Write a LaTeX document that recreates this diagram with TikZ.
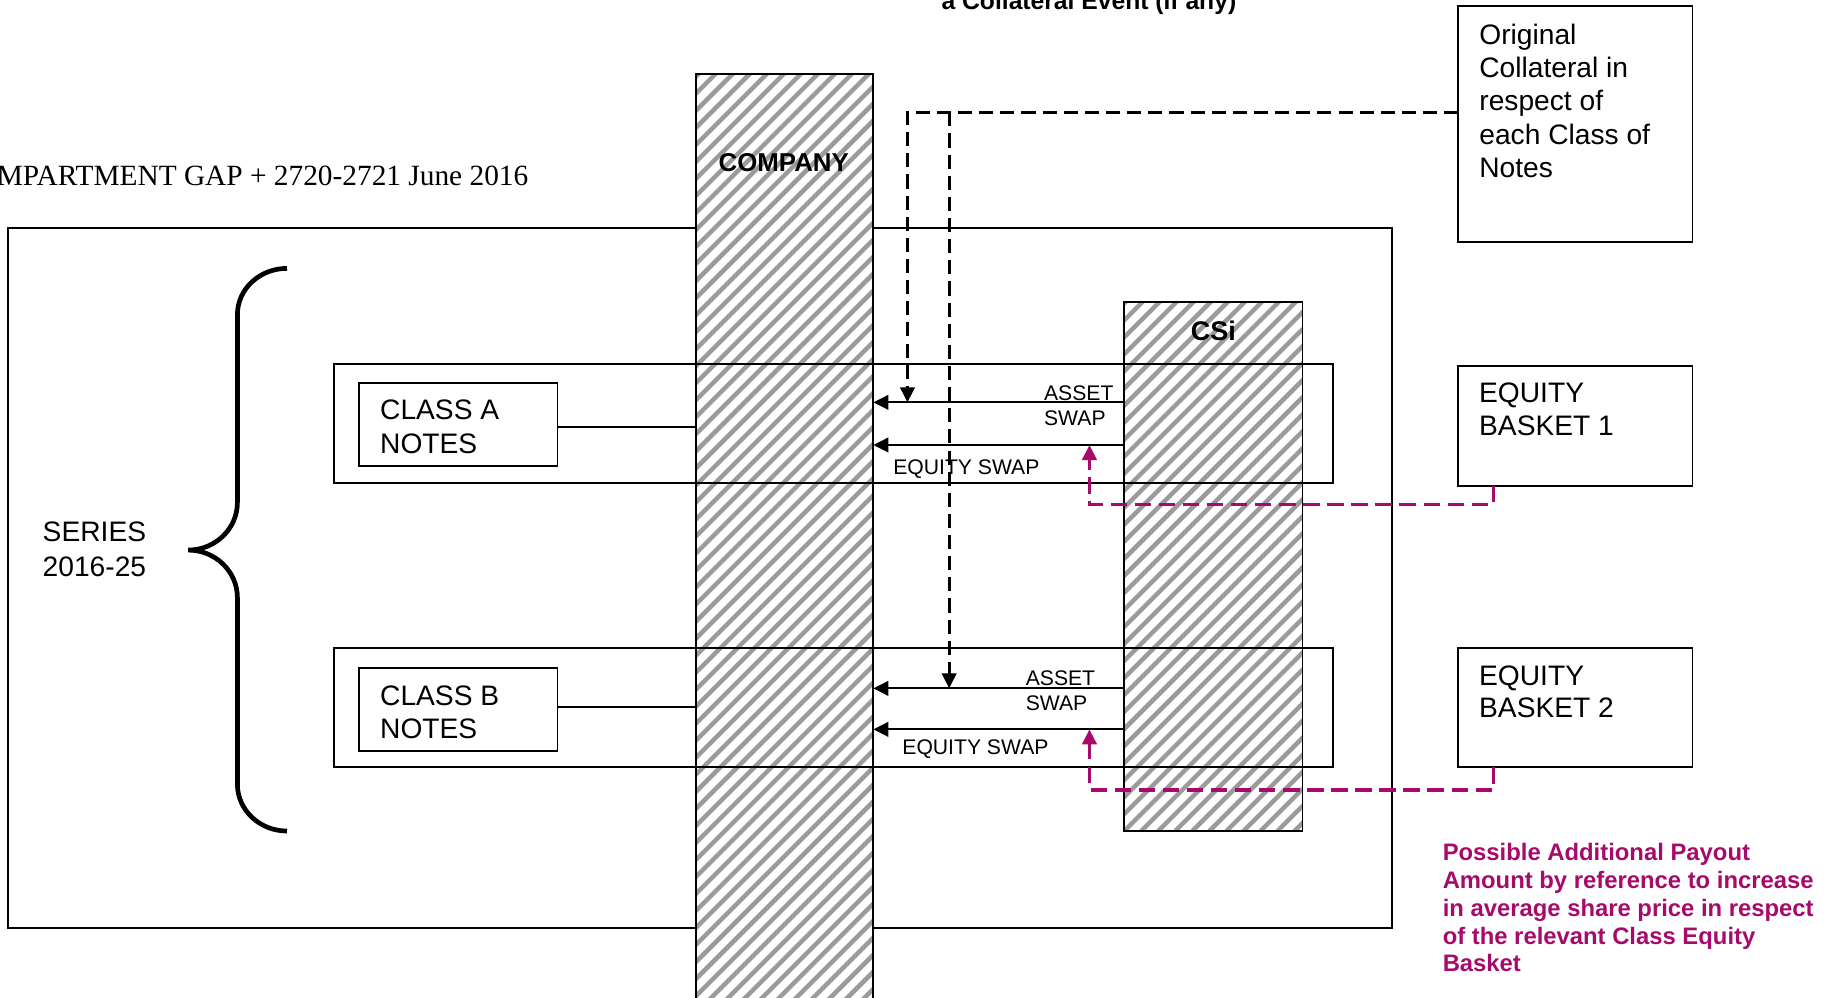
\documentclass[tikz,border=0pt]{standalone}
\usepackage{fontspec}
\setmainfont{Liberation Sans}
\newfontfamily\timesfont{Liberation Serif}
\usetikzlibrary{arrows.meta}
\definecolor{mag}{RGB}{166,10,106}
\definecolor{hatchgray}{RGB}{155,155,155}
\newcommand\fbig{\fontsize{24}{28.4}\selectfont}
\newcommand\fsmall{\fontsize{18}{21.2}\selectfont}
\newcommand\fmag{\bfseries\fontsize{20.3}{23.7}\selectfont}
\tikzset{
 boxnode/.style={draw=black, line width=1.6pt, rectangle, inner sep=0pt, outer sep=0pt, anchor=north west},
 hatched/.style={boxnode, fill=white, path picture={\foreach \k in {-62,...,12}{\draw[hatchgray, line width=3.8pt] ([xshift=\k*14.5pt]path picture bounding box.south west) -- ++(1000pt,1000pt);}}},
 txt/.style={inner sep=0pt, outer sep=0pt, anchor=north west, align=left},
 basetxt/.style={inner sep=0pt, outer sep=0pt, anchor=base west},
 swaparrow/.style={line width=1.8pt, -{Triangle[length=12.8pt,width=12.5pt]}},
 blackdash/.style={line width=2.6pt, dash pattern=on 12pt off 6pt},
 magdash/.style={color=mag, line width=2.8pt, dash pattern=on 14pt off 6.5pt},
 dashtip/.style={-{Triangle[length=12.8pt,width=12.2pt]}},
 solidline/.style={line width=1.5pt},
}
\begin{document}
\begin{tikzpicture}[x=1pt,y=-1pt]
\useasboundingbox (0,0) rectangle (1568,850);

% top and title texts
\node[basetxt, font=\bfseries\fontsize{21}{25}\selectfont] (collev) at (802,8) {a Collateral Event (if any)};
\node[inner sep=0pt, outer sep=0pt, anchor=base east, font=\timesfont\fontsize{25}{29}\selectfont] (title) at (450,157.6) {MPARTMENT GAP + 2720-2721 June 2016};

% outer frame
\node[boxnode, minimum width=1178.8pt, minimum height=596.2pt] (frame) at (7,194.5) {};

% hatched columns
\node[hatched, minimum width=151.4pt, minimum height=800pt] (company) at (592.5,63) {};
\node[hatched, minimum width=151.8pt, minimum height=450.8pt] (csi) at (957.5,257) {};
\node[anchor=base, inner sep=0pt, font=\bfseries\fontsize{22}{26}\selectfont] (companylbl) at (667.5,146.2) {COMPANY};
\node[anchor=base, inner sep=0pt, font=\bfseries\fontsize{23}{27}\selectfont] (csilbl) at (1033.4,289.6) {CSi};

% class bands
\node[boxnode, minimum width=850.9pt, minimum height=101.5pt] (bandA) at (284.7,310) {};
\node[boxnode, minimum width=850.9pt, minimum height=101.9pt] (bandB) at (284.7,551.7) {};
\node[boxnode, minimum width=169pt, minimum height=70.2pt] (boxA) at (305.8,326.5) {};
\node[boxnode, minimum width=169pt, minimum height=70.1pt] (boxB) at (305.8,569.3) {};
\node[txt, font=\fbig] (boxAtxt) at (323.8,340.9) {CLASS A\\NOTES};
\node[txt, font=\fbig] (boxBtxt) at (323.8,584) {CLASS B\\NOTES};
\coordinate (lA) at (0,364);
\coordinate (lB) at (0,601.9);
\draw[solidline] (boxA.east |- lA) -- (company.west |- lA);
\draw[solidline] (boxB.east |- lB) -- (company.west |- lB);

% series brace
\draw[line width=4pt] (244.4,228.6) .. controls (221.3,228.6) and (202.2,246) .. (202.2,268)
  -- (202.2,428) .. controls (202.2,450.3) and (183.4,468.5) .. (160.3,468.5)
  .. controls (183.4,468.5) and (202.2,486.7) .. (202.2,509)
  -- (202.2,668) .. controls (202.2,690) and (221.3,707.8) .. (244.4,707.8);
\node[txt, font=\fontsize{24}{29.8}\selectfont] (series) at (36.4,444.7) {SERIES\\2016-25};

% right boxes
\node[boxnode, minimum width=199.5pt, minimum height=200.8pt] (orig) at (1242,5.1) {};
\node[boxnode, minimum width=199.9pt, minimum height=102pt] (bask1) at (1241.6,311.7) {};
\node[boxnode, minimum width=199.9pt, minimum height=101.9pt] (bask2) at (1241.6,551.7) {};
\node[txt, font=\fbig] (origtxt) at (1260,20.3) {Original\\Collateral in\\respect of\\each Class of\\Notes};
\node[txt, font=\fontsize{24}{27.8}\selectfont] (bask1txt) at (1259.8,326.4) {EQUITY\\BASKET 1};
\node[txt, font=\fontsize{24}{27.8}\selectfont] (bask2txt) at (1259.8,566.8) {EQUITY\\BASKET 2};

% swap arrows
\coordinate (yA1) at (0,342.7);
\coordinate (yA2) at (0,379);
\coordinate (yB1) at (0,586.3);
\coordinate (yB2) at (0,621.2);
\draw[swaparrow] (csi.west |- yA1) -- (company.east |- yA1);
\draw[swaparrow] (csi.west |- yA2) -- (company.east |- yA2);
\draw[swaparrow] (csi.west |- yB1) -- (company.east |- yB1);
\draw[swaparrow] (csi.west |- yB2) -- (company.east |- yB2);
\node[txt, font=\fsmall] (assetA) at (889.3,328.4) {ASSET\\SWAP};
\node[basetxt, font=\fsmall] (eqA) at (760.9,404) {EQUITY SWAP};
\node[txt, font=\fsmall] (assetB) at (873.7,571.4) {ASSET\\SWAP};
\node[basetxt, font=\fsmall] (eqB) at (768.6,642.5) {EQUITY SWAP};

% black dashed collateral lines
\coordinate (corner) at (772.9,95.7);
\coordinate (branch) at (808.4,95.7);
\draw[blackdash, dashtip] (orig.west |- corner) -- (corner) -- (corner |- yA1);
\draw[blackdash, dashtip] (branch) -- (branch |- yB1);

% magenta dashed payout lines
\coordinate (m1) at (1272,429.6);
\coordinate (mA) at (927.9,429.6);
\coordinate (m2) at (1272,672.9);
\coordinate (mB) at (927.9,672.9);
\draw[magdash, dashtip] (m1 |- bask1.south) -- (m1) -- (mA) -- (mA |- yA2);
\draw[magdash, dashtip] (m2 |- bask2.south) -- (m2) -- (mB) -- (mB |- yB2);
\node[txt, font=\fmag, text=mag] (payout) at (1228.8,718.2) {Possible Additional Payout\\Amount by reference to increase\\in average share price in respect\\of the relevant Class Equity\\Basket};
\end{tikzpicture}
\end{document}
